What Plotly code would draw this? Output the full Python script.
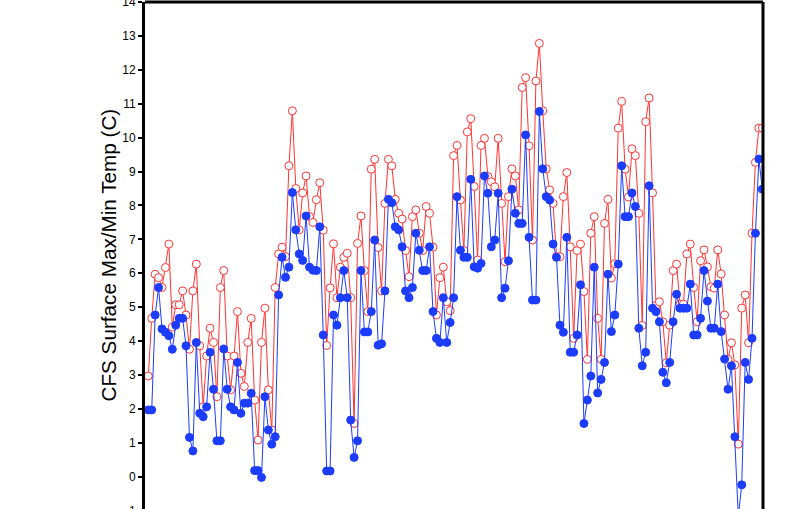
import plotly.graph_objects as go

# Daily CFS surface temperature (C)
tmax = [
    2.97, 4.67, 5.97, 5.87, 5.58, 6.17, 6.86, 4.41, 5.07, 5.07, 5.48, 4.77, 3.76, 5.48, 6.27,
    3.86, 2.06, 3.56, 4.38, 3.96, 2.36, 5.58, 6.08, 3.56, 2.56, 3.56, 4.87, 3.05, 2.66, 3.96,
    4.67, 2.26, 1.08, 3.96, 4.97, 2.56, 1.38, 5.58, 6.57, 6.77, 6.49, 9.17,
    10.79, 8.5, 7.28, 8.37, 8.87, 7.67, 7.5, 8.17, 8.67, 7.27, 3.87, 5.57, 6.87, 5.28, 6.18,
    6.47, 6.59, 5.28, 1.57, 6.88, 7.69, 6.08, 4.87, 9.07, 9.36, 6.76, 5.48, 8.06, 9.36, 9.17, 8.18,
    7.77, 7.6, 6.67, 5.9, 7.67, 7.87, 7.18, 6.67, 7.97, 7.77, 6.77, 4.77,
    5.87, 6.18, 5.16, 4.9, 9.47, 9.77, 8.16, 6.67, 10.17, 10.56, 8.56, 6.39, 9.77,
    9.98, 8.85, 8.7, 8.55, 9.98, 8.06, 6.34, 8.26, 9.08, 8.87, 7.87, 11.48, 11.77, 9.76, 6.98,
    11.67, 12.78, 10.79, 9.08, 8.46, 8.06, 6.49, 6.49, 8.26, 8.97,
    6.78, 4.08, 6.67, 6.86, 5.46, 3.46, 7.18, 7.67, 4.67,
    3.46, 7.47, 8.18, 5.86, 6.28, 10.28, 11.07, 9.07, 8.25, 9.67, 9.47, 7.77, 4.46, 10.47, 11.17,
    8.37, 5.05, 5.16, 4.57, 3.36, 4.47, 6.08, 6.27, 5.09, 5.09, 6.57, 6.86, 5.58, 4.57, 6.37,
    6.69, 6.19, 5.6, 5.56, 6.69, 5.98, 4.77, 3.46, 3.95, 3.3, 0.96, 4.97, 5.36, 3.95, 7.18,
    9.27, 10.28, 10.28,
]
tmin = [
    1.97, 1.97, 4.77, 5.58, 4.36, 4.26, 4.16, 3.76, 4.47, 4.67, 4.67, 3.86, 1.16, 0.76, 3.96,
    1.87, 1.77, 2.06, 3.67, 2.58, 1.06, 1.06, 3.77, 2.58, 2.06, 1.97, 3.37, 1.87, 2.17, 2.17,
    2.46, 0.18, 0.18, -0.02, 2.36, 1.38, 0.96, 1.18, 5.36, 6.47, 5.88, 6.18,
    8.38, 7.28, 6.57, 6.38, 7.69, 6.18, 6.09, 6.08, 7.37, 4.18, 0.17, 0.17, 4.77, 4.47, 5.28,
    6.08, 5.28, 1.67, 0.57, 1.06, 6.08, 4.27, 4.27, 4.87, 6.98, 3.88, 3.92, 5.48, 8.18, 8.08, 7.37,
    7.28, 6.78, 5.48, 5.28, 5.58, 7.18, 6.68, 6.08, 6.08, 6.78, 4.87, 4.08,
    3.96, 5.28, 3.96, 4.55, 5.28, 8.26, 6.68, 6.47, 6.47, 8.77, 6.19, 6.15, 6.29,
    8.87, 8.36, 6.78, 6.98, 8.36, 5.28, 5.56, 6.37, 8.48, 7.77, 7.47, 7.47, 10.08, 7.06, 5.21,
    5.21, 10.77, 9.08, 8.26, 8.16, 6.86, 6.47, 4.47, 4.26, 7.06,
    3.67, 3.67, 4.18, 5.66, 1.57, 2.26, 2.97, 6.18, 2.47,
    2.87, 3.37, 5.97, 4.28, 4.77, 6.27, 9.17, 7.67, 7.67, 8.37, 7.97, 4.38, 3.27, 3.67, 8.58,
    4.97, 4.87, 4.57, 3.08, 2.77, 3.37, 4.57, 5.38, 4.97, 4.97, 4.97, 5.68, 4.18, 4.18, 4.67,
    6.08, 5.18, 4.38, 4.38, 5.68, 4.28, 3.47, 2.58, 3.27, 1.18, -1.18, -0.24, 3.37, 2.87, 4.08,
    7.18, 9.37, 8.48,
]
days = list(range(len(tmax)))
ytick_vals = list(range(-1, 15))

RED = "rgb(255,51,51)"
BLUE = "rgb(28,60,255)"
TICKFONT = dict(family="Liberation Sans Narrow, Liberation Sans, Arial", size=12, color="black")

fig = go.Figure()
fig.add_trace(go.Scatter(
    x=days, y=tmax, mode="lines+markers", name="Max",
    line=dict(color=RED, width=1),
    marker=dict(symbol="circle", size=8, color="white", line=dict(color=RED, width=1)),
))
fig.add_trace(go.Scatter(
    x=days, y=tmin, mode="lines+markers", name="Min",
    line=dict(color=BLUE, width=1),
    marker=dict(symbol="circle", size=8, color=BLUE, line=dict(color=BLUE, width=1)),
))

fig.update_layout(
    width=800, height=509,
    margin=dict(l=145, r=37, t=2, b=0),
    paper_bgcolor="white", plot_bgcolor="white",
    showlegend=False,
    xaxis=dict(range=[-0.96, 179.2], showticklabels=False, showgrid=False,
               zeroline=False, showline=False, ticks=""),
    yaxis=dict(range=[-0.952, 14], tickvals=ytick_vals, showgrid=False, zeroline=False,
               automargin=False, ticklabeloverflow="allow",
               showline=True, linewidth=3, linecolor="black",
               ticks="outside", ticklen=4, tickwidth=1.5, tickcolor="black",
               tickfont=TICKFONT),
    shapes=[
        dict(type="line", xref="paper", yref="paper", x0=0, x1=1, y0=1, y1=1,
             line=dict(color="black", width=3)),
        dict(type="line", xref="paper", yref="paper", x0=1, x1=1, y0=0, y1=1,
             line=dict(color="black", width=3)),
    ],
    annotations=[
        dict(text="CFS Surface Max/Min Temp (C)", xref="paper", yref="paper",
             x=(108 - 145) / 618, y=0.5, xanchor="center", yanchor="middle",
             textangle=-90, showarrow=False,
             font=dict(family="Liberation Sans, Arial", size=20.7, color="black")),
        dict(text="-1", xref="paper", yref="paper",
             x=(138 - 145) / 618, y=(-1 + 0.952) / 14.952, xanchor="right", yanchor="middle",
             showarrow=False, font=TICKFONT),
    ],
)

fig.write_html("out.html", config={"displayModeBar": False},
               post_script="document.body.style.margin='0';")
